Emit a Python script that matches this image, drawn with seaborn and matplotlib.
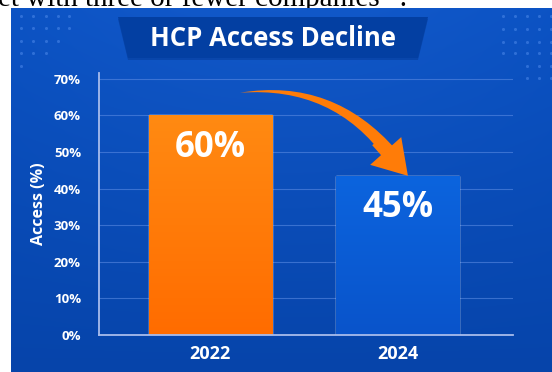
import numpy as np
import pandas as pd
import matplotlib
matplotlib.use("Agg")
import matplotlib.pyplot as plt
import seaborn as sns
from matplotlib.patches import Polygon
from matplotlib.colors import to_rgb

# ---- data ----
years = ["2022", "2024"]
access = [60, 43.5]
value_labels = ["60%", "45%"]
ytick_values = [0, 10, 20, 30, 40, 50, 60, 70]
ytick_labels = ["0%", "10%", "20%", "30%", "40%", "50%", "60%", "70%"]
title = "HCP Access Decline"
ylabel = "Access (%)"
bar_colors = ["#FF7A00", "#0A5DD6"]
bar_gradients = [("#FF8A12", "#FF6C00"), ("#0C64DE", "#0954CB")]
header_text = "et with three or fewer companies\u201d ."

sns.set_theme(style="white")
plt.rcParams["font.family"] = ["Open Sans", "DejaVu Sans"]

W, H = 552, 372
fig = plt.figure(figsize=(W / 100, H / 100), dpi=100, facecolor="white")

# ---- background layer (pixel coordinates) ----
bg = fig.add_axes([0, 0, 1, 1], zorder=0)
bg.set_xlim(0, W)
bg.set_ylim(H, 0)
bg.axis("off")

ny, nx = 200, 300
t = np.linspace(0, 1, ny)[:, None, None]
u = np.linspace(0, 1, nx)[None, :, None]
top = np.array(to_rgb("#0C53C4"))
bot = np.array(to_rgb("#0644AA"))
img = top * (1 - t) + bot * t
img = img + 0.02 * np.sin(np.pi * u) * (1 - t)
img = np.clip(img, 0, 1)
bg.imshow(img, extent=[11, W, H, 8], aspect="auto", interpolation="bilinear", zorder=1)

bg.text(-2, 6, header_text, family=["Liberation Serif", "DejaVu Serif"],
        fontsize=21, color="black", va="baseline", ha="left", zorder=0)

# title banner
shadow = Polygon([(118, 19), (428, 19), (418, 60), (128, 60)], closed=True,
                 facecolor="#022E80", alpha=0.35, edgecolor="none", zorder=2)
bg.add_patch(shadow)
banner = Polygon([(118, 17), (428, 17), (418, 58), (128, 58)], closed=True,
                 facecolor="#033FA2", edgecolor="none", zorder=3)
bg.add_patch(banner)
bg.text(273, 38.5, title, ha="center", va="center", color="white",
        fontsize=18.5, fontweight="bold", zorder=4)

# decorative dots
tl_rows = [(16, 5), (28, 5), (41, 4), (53, 3), (66, 1)]
tl_cols = [21, 33, 46, 58, 69]
tr_rows = [(16, 5), (29, 5), (42, 5), (53, 5), (66, 3), (78, 3)]
tr_cols = [503, 515, 527, 539, 551]
dx, dy = [], []
for yy, n in tl_rows:
    for xx in tl_cols[:n]:
        dx.append(xx); dy.append(yy)
for yy, n in tr_rows:
    for xx in tr_cols[len(tr_cols) - n:]:
        dx.append(xx); dy.append(yy)
bg.scatter(dx, dy, s=5, color="#4C88EA", alpha=0.55, linewidths=0, zorder=2)

# ---- main chart ----
ax = fig.add_axes([99 / W, 37 / H, 414 / W, 262 / H], zorder=1)
ax.patch.set_alpha(0)

df = pd.DataFrame({"year": years, "access": access})
sns.barplot(data=df, x="year", y="access", hue="year", palette=bar_colors,
            width=0.66, legend=False, saturation=1, ax=ax, zorder=2)

# gradient fill on bars
for bar, (ctop, cbot) in zip(ax.patches, bar_gradients):
    x0, w, h = bar.get_x(), bar.get_width(), bar.get_height()
    tt = np.linspace(0, 1, 100)[:, None, None]
    g = np.array(to_rgb(ctop)) * (1 - tt) + np.array(to_rgb(cbot)) * tt
    g = np.repeat(g, 2, axis=1)
    im = ax.imshow(g, extent=[x0, x0 + w, 0, h], aspect="auto", zorder=2.5,
                   interpolation="bilinear")
    im.set_clip_path(bar)

ax.set_xlim(-0.596, 1.618)
ax.set_ylim(0, 71.6)

# value labels
for i, (v, lab) in enumerate(zip(access, value_labels)):
    ax.text(i, v - 11.3, lab, ha="center", va="baseline", color="white",
            fontsize=25, fontweight="bold", zorder=4)

# curved, tapering arrow from the 2022 bar to the 2024 bar
arrow_color = "#FF7C08"
arrow_start = (0.158, 66.2)
head_base = (0.968, 49.2)
head_back = (0.890, 53.0)
head_tip = (1.056, access[1])
# tapering body (wide at the head end, thin at the start)
ax.annotate("", xy=arrow_start, xytext=head_base,
            arrowprops=dict(arrowstyle="wedge,tail_width=0.33,shrink_factor=0.5",
                            mutation_scale=30, connectionstyle="arc3,rad=0.28",
                            fc=arrow_color, ec="none", shrinkA=0, shrinkB=0),
            zorder=5)
# arrow head
ax.annotate("", xy=head_tip, xytext=head_back,
            arrowprops=dict(arrowstyle="simple,head_length=0.8,head_width=1.0,tail_width=0.3",
                            mutation_scale=30, connectionstyle="arc3,rad=0",
                            fc=arrow_color, ec="none", shrinkA=0, shrinkB=0),
            zorder=5)

ax.set_yticks(ytick_values)
ax.set_yticklabels(ytick_labels)
ax.tick_params(axis="y", colors="white", length=0, labelsize=9.5, pad=13)
ax.tick_params(axis="x", colors="white", length=0, labelsize=13, pad=7)
for lbl in ax.get_yticklabels() + ax.get_xticklabels():
    lbl.set_fontweight("bold")
ax.set_xlabel("")
ax.set_ylabel(ylabel, color="white", fontsize=11.5, fontweight="bold")
ax.yaxis.set_label_coords(-0.125, 0.5)

ax.yaxis.grid(True, color="#5A8AE2", linewidth=0.8, alpha=0.6, zorder=0)
ax.set_axisbelow(True)
for s in ["top", "right"]:
    ax.spines[s].set_visible(False)
for s in ["left", "bottom"]:
    ax.spines[s].set_color("#A8BCEC")
    ax.spines[s].set_linewidth(1.3)

fig.savefig("out.png", dpi=100, facecolor="white")
